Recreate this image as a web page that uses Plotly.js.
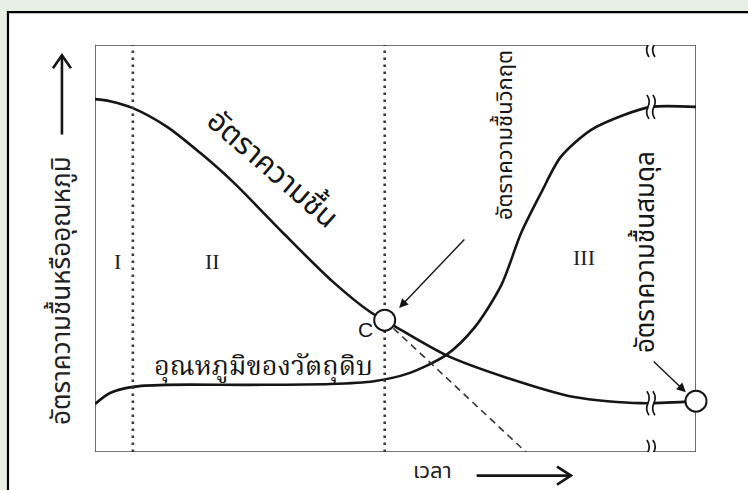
<!DOCTYPE html>
<html>
<head>
<meta charset="utf-8">
<script src="https://cdn.plot.ly/plotly-3.0.1.min.js"></script>
<style>
  html, body { margin: 0; padding: 0; background: #e7f0e3; }
  #chart { width: 748px; height: 490px; }
</style>
</head>
<body>
<div id="chart"></div>
<script>
// Drying curve: moisture content and material temperature versus time (arbitrary units 0-100)
const timeMoisture = [0, 2.5, 6.3, 12.0, 17.5, 23.0, 31.3, 39.6, 45.8, 48.2, 50.1, 58.4, 68.6, 79.7, 90.8, 100];
const moisture     = [86.7, 86.2, 84.5, 79.9, 73.5, 66.3, 53.8, 41.8, 34.4, 32.4, 30.7, 23.8, 18.2, 13.5, 12.0, 12.5];

const timeTemp    = [0, 2.5, 6.3, 12.0, 25.8, 39.1, 46.4, 51.9, 58.4, 63.1, 67.6, 70.9, 74.2, 77.5, 82.5, 88.0, 92.5, 100];
const temperature = [11.8, 14.5, 16.0, 16.5, 16.5, 16.7, 17.4, 19.2, 23.8, 30.5, 41.0, 53.8, 63.6, 72.5, 79.1, 82.8, 84.8, 84.8];

// Boundaries between drying periods I | II | III
const periodBounds = [6.3, 48.2];
const periodLabels = ['I', 'II', 'III'];
const periodLabelTime = [3.8, 19.5, 81.4];

// Critical moisture point (C) and equilibrium moisture point
const pointTime  = [48.2, 100];
const pointValue = [32.4, 12.5];

// Extrapolated constant-rate line from C
const tangentTime  = [48.2, 71.7];
const tangentValue = [32.4, 0];

// Axis break position on the time axis
const breakTime = 92.5;

const ink = '#151515';
const frame = '#4a4a4a';
const thaiSans = '"Noto Sans Thai", "Noto Sans Thai Looped", "Noto Sans", sans-serif';
const thaiSerif = '"Noto Serif Thai", "Noto Sans Thai Looped", "Noto Sans Thai", serif';

const traces = [
  { x: timeMoisture, y: moisture, mode: 'lines', line: { color: ink, width: 2.6, shape: 'spline', smoothing: 0.8 }, hoverinfo: 'skip' },
  { x: timeTemp, y: temperature, mode: 'lines', line: { color: ink, width: 2.6, shape: 'spline', smoothing: 0.8 }, hoverinfo: 'skip' },
  { x: tangentTime, y: tangentValue, mode: 'lines', line: { color: '#333', width: 1.6, dash: '7px,5px' }, hoverinfo: 'skip' },
  { x: [periodBounds[0], periodBounds[0]], y: [0, 100], mode: 'lines', line: { color: '#3a3a3a', width: 2.6, dash: '2.5px,4.5px' }, hoverinfo: 'skip' },
  { x: [periodBounds[1], periodBounds[1]], y: [0, 100], mode: 'lines', line: { color: '#3a3a3a', width: 2.6, dash: '2.5px,4.5px' }, hoverinfo: 'skip' },
  { x: pointTime, y: pointValue, mode: 'markers', cliponaxis: false,
    marker: { size: 21, color: '#ffffff', line: { color: ink, width: 2 } }, hoverinfo: 'skip' }
];

// Wavy axis-break marks
function breakMark(yv) {
  return [
    { type: 'rect', xref: 'x', yref: 'y', xsizemode: 'pixel', ysizemode: 'pixel',
      xanchor: breakTime, yanchor: yv, x0: -2.5, x1: 2.5, y0: -4, y1: 4,
      fillcolor: '#ffffff', line: { width: 0 }, layer: 'above' },
    { type: 'path', xref: 'x', yref: 'y', xsizemode: 'pixel', ysizemode: 'pixel',
      xanchor: breakTime, yanchor: yv,
      path: 'M -4 12 Q 0 6 -3 0 Q -6 -6 -2 -12',
      line: { color: ink, width: 1.7 }, layer: 'above' },
    { type: 'path', xref: 'x', yref: 'y', xsizemode: 'pixel', ysizemode: 'pixel',
      xanchor: breakTime, yanchor: yv,
      path: 'M 2 12 Q 6 6 3 0 Q 0 -6 4 -12',
      line: { color: ink, width: 1.7 }, layer: 'above' }
  ];
}

// Open chevron arrow in paper coordinates
function openArrow(x0, y0, x1, y1, head) {
  return [
    { type: 'line', xref: 'paper', yref: 'paper', x0: x0, y0: y0, x1: x1, y1: y1,
      line: { color: ink, width: 2.6 }, layer: 'above' },
    { type: 'path', xref: 'paper', yref: 'paper', xsizemode: 'pixel', ysizemode: 'pixel',
      xanchor: x1, yanchor: y1, path: head, line: { color: ink, width: 2.6 }, layer: 'above' }
  ];
}

const shapes = [
  // white sheet with black frame
  { type: 'rect', xref: 'paper', yref: 'paper', x0: -0.1448, x1: 1.3, y0: -0.3, y1: 1.081,
    fillcolor: '#ffffff', line: { color: '#000', width: 2.2 }, layer: 'below' },
  // plot box
  { type: 'rect', xref: 'x', yref: 'y', x0: 0, x1: 100, y0: 0, y1: 100,
    line: { color: frame, width: 1.6 }, layer: 'below' },
  ...breakMark(100),
  ...breakMark(temperature[temperature.length - 2]),
  ...breakMark(moisture[moisture.length - 2]),
  ...breakMark(0),
  // axis direction arrows
  ...openArrow(-0.055, 0.78, -0.055, 0.975, 'M -9 -13 L 0 0 L 9 -13'),
  ...openArrow(0.635, -0.058, 0.792, -0.058, 'M -14 9 L 0 0 L -14 -9')
];

const annotations = [
  { x: 29.5, y: 69.3, text: 'อัตราความชื้น', showarrow: false, textangle: 41,
    font: { family: thaiSans, size: 30, color: ink } },
  { x: 28.0, y: 20.8, text: 'อุณหภูมิของวัตถุดิบ', showarrow: false,
    font: { family: thaiSerif, size: 27, color: ink } },
  { x: 68.3, y: 78.0, text: 'อัตราความชื้นวิกฤต', showarrow: false, textangle: -90,
    font: { family: thaiSans, size: 22, color: ink } },
  { x: 91.6, y: 49.0, text: 'อัตราความชื้นสมดุล', showarrow: false, textangle: -90,
    font: { family: thaiSans, size: 26, color: ink } },
  { x: 45.0, y: 30.0, text: 'C', showarrow: false,
    font: { family: 'Liberation Sans, Arial, sans-serif', size: 21, color: ink } },
  // axis titles
  { xref: 'paper', yref: 'paper', x: -0.055, y: 0.398, xanchor: 'center', yanchor: 'middle',
    text: 'อัตราความชื้นหรืออุณหภูมิ', showarrow: false, textangle: -90,
    font: { family: thaiSans, size: 26, color: '#222' } },
  { xref: 'paper', yref: 'paper', x: 0.562, y: -0.047, xanchor: 'center', yanchor: 'middle',
    text: 'เวลา', showarrow: false,
    font: { family: thaiSans, size: 22, color: '#222' } },
  // pointers to C and the equilibrium point
  { x: 50.6, y: 35.4, ax: 61.7, ay: 52.6, axref: 'x', ayref: 'y', text: '', showarrow: true,
    arrowhead: 2, arrowsize: 1.3, arrowwidth: 1.4, arrowcolor: ink },
  { x: 98.3, y: 14.7, ax: 92.7, ay: 22.6, axref: 'x', ayref: 'y', text: '', showarrow: true,
    arrowhead: 2, arrowsize: 1.3, arrowwidth: 1.4, arrowcolor: ink }
];

periodLabels.forEach((lab, i) => {
  annotations.push({ x: periodLabelTime[i], y: i === 2 ? 47.9 : 46.7, text: lab, showarrow: false,
    font: { family: 'Liberation Serif, "DejaVu Serif", serif', size: 22, color: '#222' } });
});

const layout = {
  width: 748, height: 490,
  margin: { l: 95, r: 52, t: 45, b: 38, pad: 0 },
  paper_bgcolor: '#e7f0e3',
  plot_bgcolor: 'rgba(0,0,0,0)',
  showlegend: false,
  xaxis: { range: [0, 100], showgrid: false, zeroline: false, showticklabels: false, ticks: '', showline: false, fixedrange: true },
  yaxis: { range: [0, 100], showgrid: false, zeroline: false, showticklabels: false, ticks: '', showline: false, fixedrange: true },
  shapes: shapes,
  annotations: annotations
};

Plotly.newPlot('chart', traces, layout, { displayModeBar: false, staticPlot: true });
</script>
</body>
</html>
